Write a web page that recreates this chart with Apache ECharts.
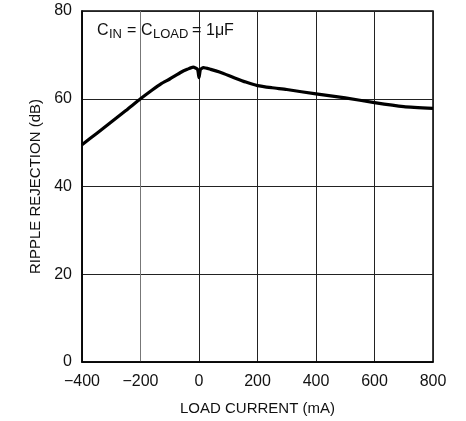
<!DOCTYPE html>
<html>
<head>
<meta charset="utf-8">
<script src="https://cdn.jsdelivr.net/npm/echarts@6/dist/echarts.min.js"></script>
<style>
html,body{margin:0;padding:0;background:#fff;}
#c{width:466px;height:421px;}
</style>
</head>
<body>
<div id="c"></div>
<script>
// Load current (mA) and ripple rejection (dB)
var loadCurrent = [-400, -350, -300, -250, -200, -160, -130, -100, -60, -40, -20, -5, 0, 5, 15, 40, 70, 120, 160, 200, 250, 300, 400, 500, 600, 700, 800];
var rippleRejection = [49.5, 52.1, 54.7, 57.3, 60.0, 62.0, 63.4, 64.5, 66.1, 66.7, 67.2, 66.7, 64.8, 66.7, 67.1, 66.7, 66.1, 64.8, 63.8, 63.0, 62.5, 62.1, 61.1, 60.2, 59.1, 58.2, 57.8];
var xTicks = [-400, -200, 0, 200, 400, 600, 800];
var yTicks = [0, 20, 40, 60, 80];
var xTitle = 'LOAD CURRENT (mA)';
var yTitle = 'RIPPLE REJECTION (dB)';
// annotation "C_IN = C_LOAD = 1µF" pieces: [text, isSubscript]
var notePieces = [['C', false], ['IN', true], ['=', false], ['C', false], ['LOAD', true], ['=', false], ['1\u03bcF', false]];

var FONT = 'Liberation Sans, Arial, sans-serif';
var chart = echarts.init(document.getElementById('c'), null, {renderer: 'canvas'});
var pts = loadCurrent.map(function (x, i) { return [x, rippleRejection[i]]; });

// layout of the annotation pieces (pixel x of each piece)
var noteX = [97, 109, 127, 141, 153, 192, 206];
var noteGraphics = notePieces.map(function (p, i) {
  return {
    type: 'text', x: noteX[i], y: p[1] ? 28 : 22.5, z: 10,
    style: {text: p[0], fontFamily: FONT, fontSize: p[1] ? 13 : 16, fill: '#111', verticalAlign: 'top', align: 'left'}
  };
});

chart.setOption({
  animation: false,
  backgroundColor: '#fff',
  grid: {left: 82, right: 33, top: 11, bottom: 59, show: true, borderColor: '#000', borderWidth: 1.5, containLabel: false},
  xAxis: {
    type: 'value',
    min: xTicks[0], max: xTicks[xTicks.length - 1], interval: 200,
    name: xTitle, nameLocation: 'middle', nameGap: 39,
    nameTextStyle: {fontFamily: FONT, fontSize: 15, color: '#111'},
    axisLine: {show: true, onZero: false, lineStyle: {color: '#000', width: 1.5}},
    axisTick: {show: false},
    axisLabel: {
      margin: 12, fontFamily: FONT, fontSize: 16, color: '#111',
      formatter: function (v) { return String(v).replace('-', '\u2212'); }
    },
    splitLine: {show: true, lineStyle: {color: ['#222', '#777', '#222', '#222', '#222', '#222', '#222'], width: 1}}
  },
  yAxis: {
    type: 'value',
    min: yTicks[0], max: yTicks[yTicks.length - 1], interval: 20,
    name: yTitle, nameLocation: 'middle', nameGap: 39, nameRotate: 90,
    nameTextStyle: {fontFamily: FONT, fontSize: 15, color: '#111'},
    axisLine: {show: true, onZero: false, lineStyle: {color: '#000', width: 1.5}},
    axisTick: {show: false},
    axisLabel: {margin: 10, fontFamily: FONT, fontSize: 16, color: '#111'},
    splitLine: {show: true, lineStyle: {color: '#222', width: 1}}
  },
  series: [{
    type: 'line',
    data: pts,
    showSymbol: false,
    smooth: 0.2,
    lineStyle: {color: '#000', width: 3.2, join: 'round'},
    z: 5
  }],
  graphic: noteGraphics
});
</script>
</body>
</html>
